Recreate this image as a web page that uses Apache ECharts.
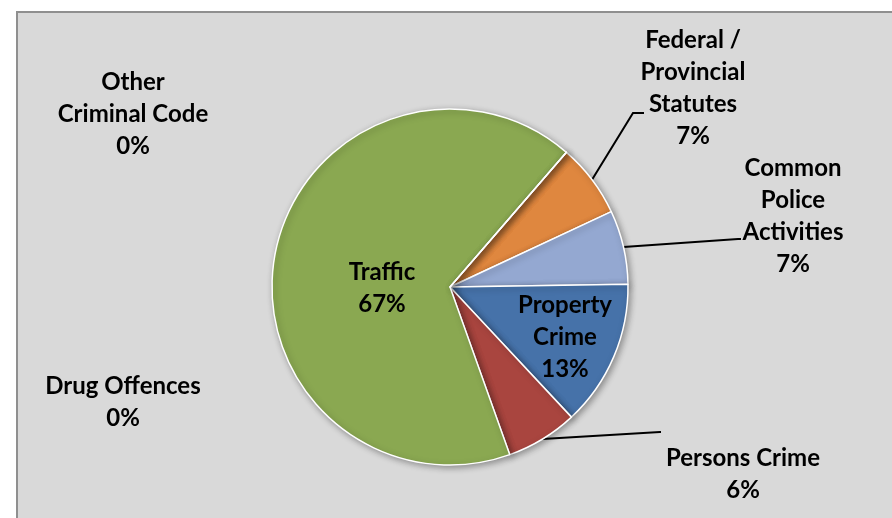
<!DOCTYPE html>
<html>
<head>
<meta charset="utf-8">
<title>Crime breakdown</title>
<script src="https://cdn.jsdelivr.net/npm/echarts@6/dist/echarts.min.js"></script>
<style>
  html, body { margin: 0; padding: 0; background: #fff; }
  #main { width: 892px; height: 518px; }
</style>
</head>
<body>
<div id="main"></div>
<script type="text/javascript">
// categories as they are wrapped in the picture
var categories = ['Federal /\nProvincial\nStatutes', 'Common\nPolice\nActivities', 'Property\nCrime',
                  'Persons Crime', 'Traffic', 'Other\nCriminal Code', 'Drug Offences'];
// share of each category, percent
var values = [6.7, 6.7, 13.3, 6.5, 66.8, 0, 0];

var colors = ['#df873f', '#94a8d1', '#4672a9', '#a9453f', '#8aa851', '#8aa851', '#8aa851'];
// which labels sit inside the pie, which have a leader line
var insideLabel = [false, false, true, false, true, false, false];
var hasLine = [true, true, false, true, false, false, false];

// label placement (block centre) and leader line bends, like the hand-placed excel labels
var labelSpot = {
    0: { c: [693, 88], line: [[633, 113], [644, 113]] },
    1: { c: [793, 216], line: [[738, 239], [741, 239]] },
    2: { c: [565, 337] },
    3: { c: [743, 474], line: [[660, 432], [661, 432]] },
    4: { c: [382, 288] },
    5: { c: [133, 114] },
    6: { c: [123, 402] }
};

var pieData = [];
for (var i = 0; i < categories.length; ++i) {
    pieData.push({
        name: categories[i],
        value: values[i],
        itemStyle: { color: colors[i] },
        label: { position: insideLabel[i] ? 'inside' : 'outside' },
        labelLine: { show: hasLine[i] }
    });
}

var myChart = echarts.init(document.getElementById('main'));

var option = {
    animation: false,
    graphic: [{
        type: 'rect',
        z: -10,
        shape: { x: 17, y: 12, width: 900, height: 520 },
        style: { fill: '#d9d9d9', stroke: '#8f8f8f', lineWidth: 2 }
    }],
    series: [{
        type: 'pie',
        center: [450, 287],
        radius: 178,
        startAngle: 49.15,
        clockwise: true,
        avoidLabelOverlap: false,
        percentPrecision: 0,
        data: pieData,
        itemStyle: {
            borderColor: '#fff',
            borderWidth: 1.5,
            shadowBlur: 6,
            shadowOffsetX: 2,
            shadowOffsetY: 2,
            shadowColor: 'rgba(0,0,0,0.35)'
        },
        label: {
            formatter: '{b}\n{d}%',
            fontFamily: 'Lato',
            fontWeight: 'bold',
            fontSize: 24,
            lineHeight: 32,
            color: '#000',
            align: 'center'
        },
        labelLine: {
            lineStyle: { color: '#000', width: 2 }
        },
        labelLayout: function (params) {
            var spot = labelSpot[params.dataIndex];
            var res = { x: spot.c[0], y: spot.c[1], align: 'center', verticalAlign: 'middle' };
            if (spot.line && params.labelLinePoints) {
                res.labelLinePoints = [params.labelLinePoints[0], spot.line[0], spot.line[1]];
            }
            return res;
        }
    }]
};
myChart.setOption(option);
</script>
</body>
</html>
